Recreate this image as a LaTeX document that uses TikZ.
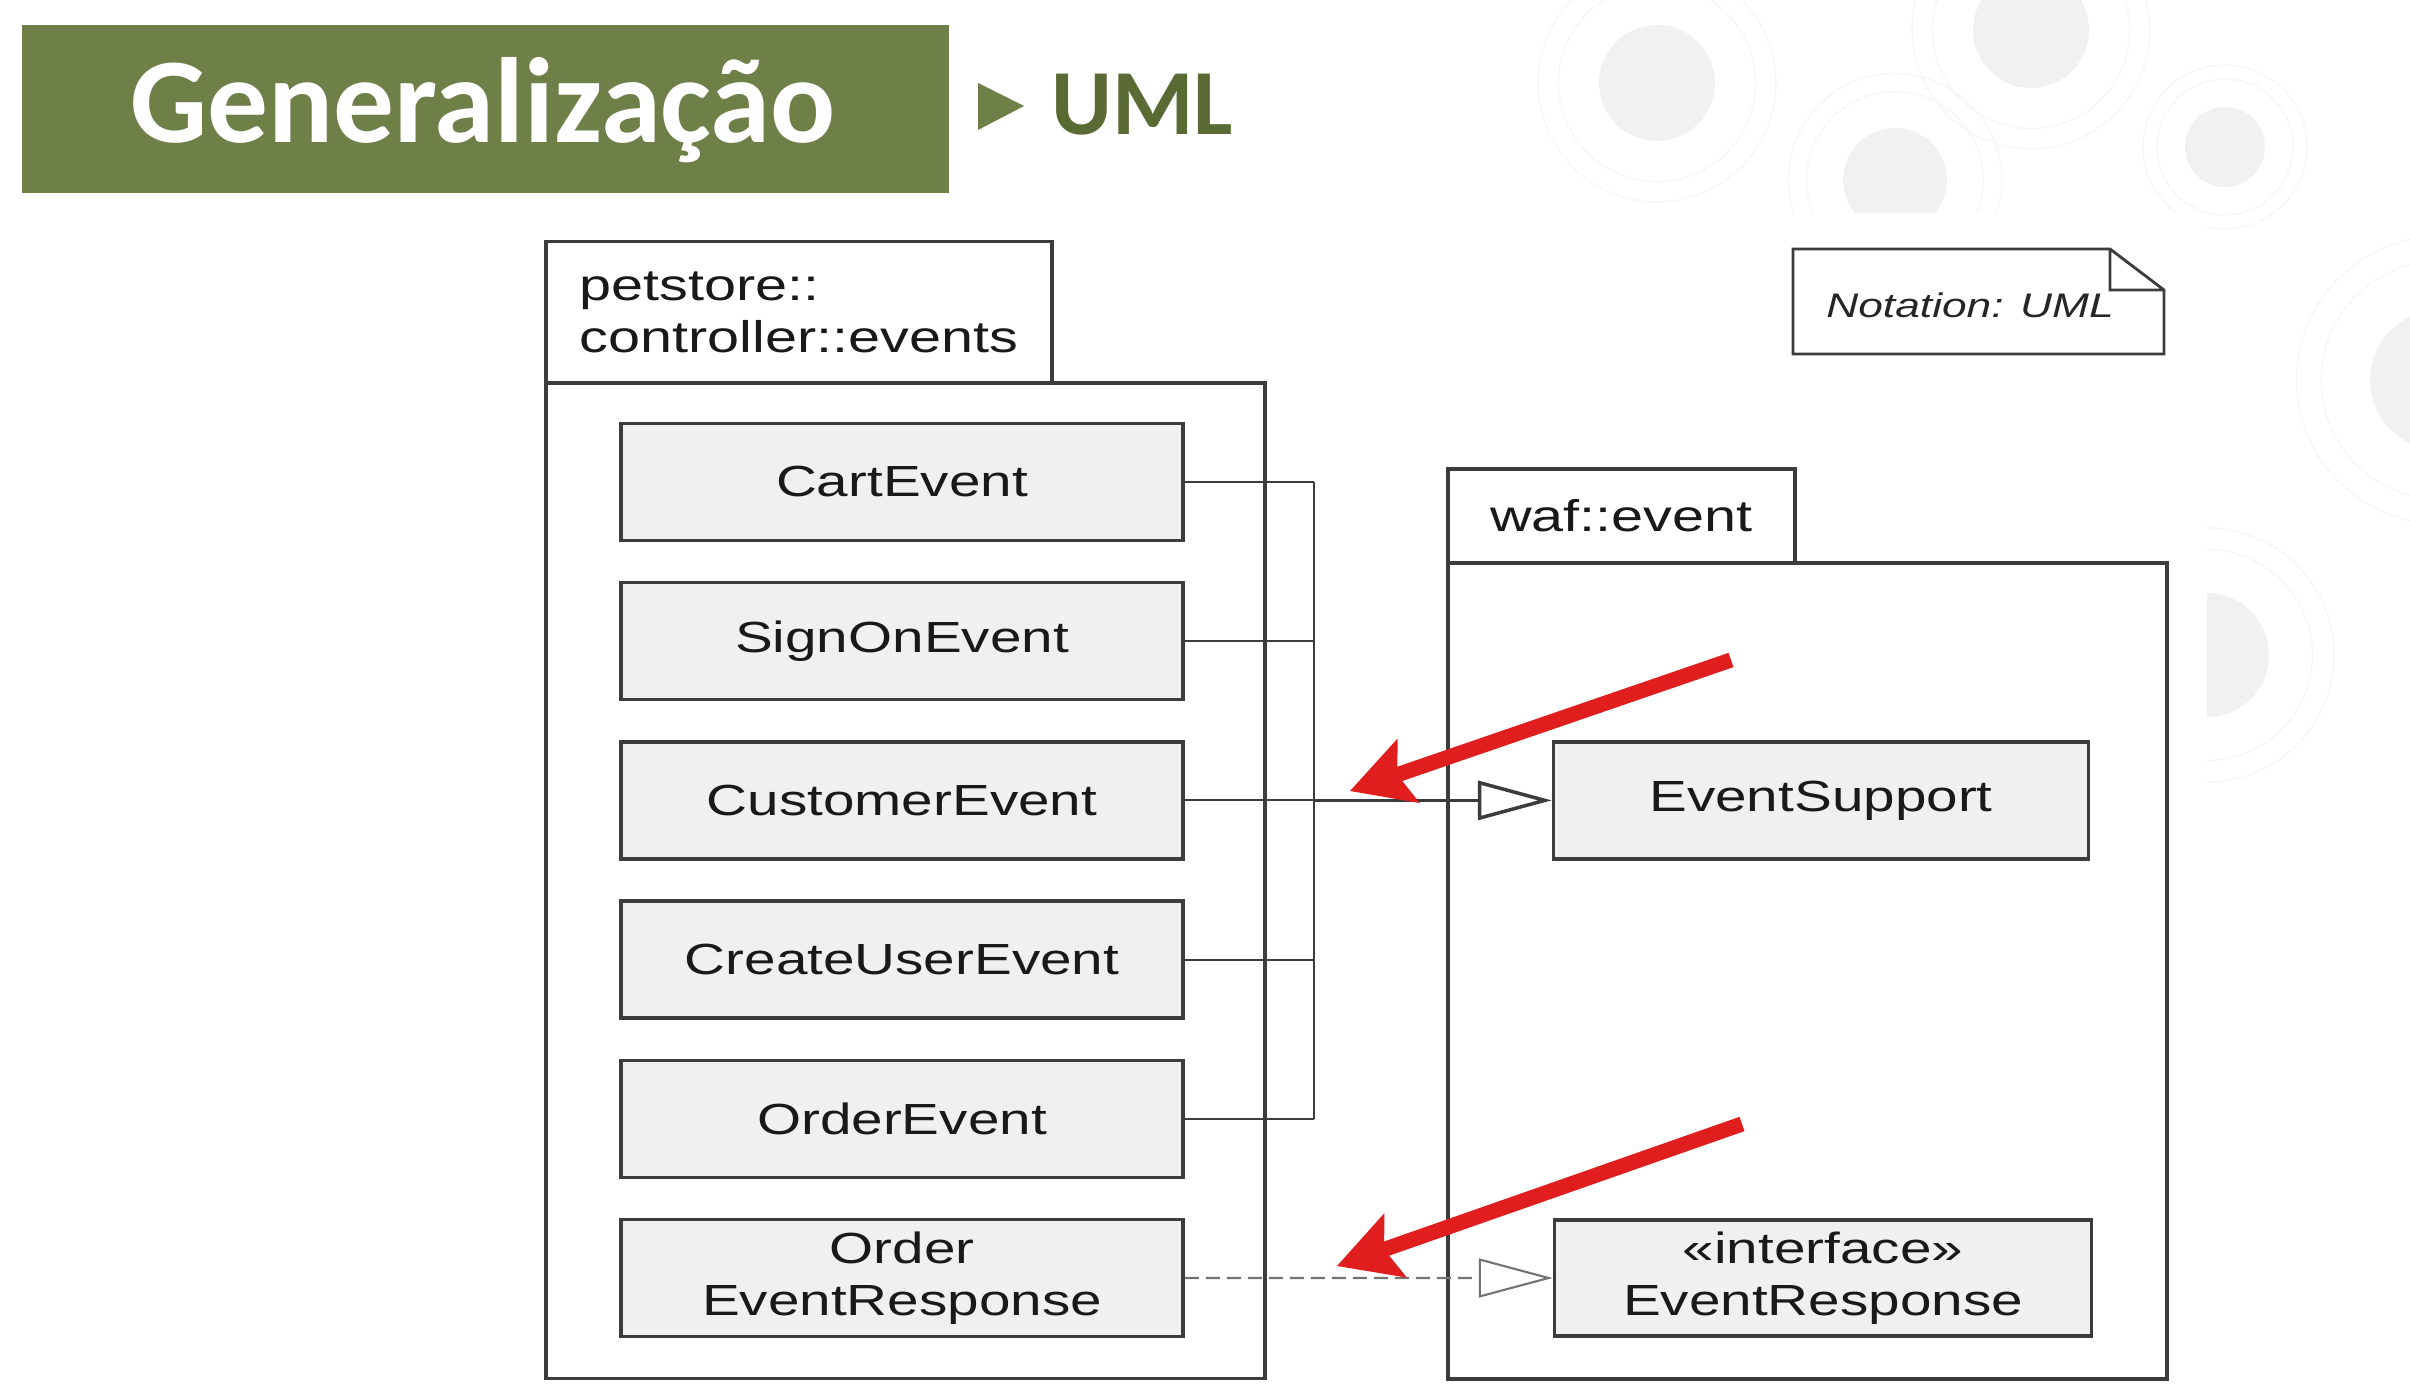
\documentclass[tikz,border=0pt]{standalone}
\usepackage{fontspec}
\setmainfont{Liberation Sans}
\newfontfamily\umlfont[FakeStretch=1.3]{Liberation Sans}
\newfontfamily\slidefont{Carlito}
\usetikzlibrary{arrows.meta}
\definecolor{olive01}{HTML}{6E7F47}
\definecolor{olive02}{HTML}{5A6A34}
\definecolor{box01}{HTML}{F0F0F0}
\definecolor{line01}{HTML}{3C3C3C}
\definecolor{hint01}{HTML}{E01E1E}
\definecolor{deco01}{HTML}{F1F1F1}
\definecolor{deco02}{HTML}{F6F6F6}
\tikzset{
  classbox/.style={rectangle, draw=line01, line width=1pt, fill=box01,
    minimum width=5.62cm, minimum height=1.17cm, align=center,
    font=\umlfont\fontsize{12.4}{14.8}\selectfont, text=black!90},
  pkgtab/.style={rectangle, draw=line01, line width=1pt, fill=white, anchor=north west,
    align=left, inner sep=0pt, font=\umlfont\fontsize{12.6}{14.8}\selectfont, text=black!90},
  pkgbody/.style={rectangle, draw=line01, line width=1pt, anchor=north west, inner sep=0pt},
  gen/.style={line01, line width=0.6pt},
  genhead/.style={-{Triangle[open, length=0.74cm, width=0.39cm, fill=white]}},
  hint/.style={hint01, line width=4.3pt, -{Stealth[length=0.62cm, width=0.68cm, inset=0.12cm, line width=0.5pt]}},
}
\begin{document}
\begin{tikzpicture}[x=0.1mm, y=-0.1mm]
  \useasboundingbox (0,0) rectangle (2410,1400);
  % slide template background
  \foreach \cx/\cy/\r in {1657/83/58, 2031/30/58, 2225/147/40, 1895/180/52, 2207/655/62, 2440/380/70} {
    \fill[deco01] (\cx,\cy) circle (\r*0.1mm);
    \draw[deco02] (\cx,\cy) circle (1.7*\r*0.1mm) (\cx,\cy) circle (2.05*\r*0.1mm);
  }
  \fill[white] (560,213) rectangle (2207,1400);

  % title
  \node[fill=olive01, minimum width=9.27cm, minimum height=1.68cm, anchor=north west, inner sep=0pt] (banner) at (21,24) {};
  \node[anchor=base, text=white, font=\slidefont\bfseries\fontsize{34.5}{40}\selectfont] (title) at (483,143) {Generalização};
  \fill[olive01] (978,83) -- (1024,106) -- (978,130) -- cycle;
  \node[anchor=base west, inner sep=0pt, text=olive02, font=\slidefont\bfseries\fontsize{26.5}{32}\selectfont] (subtitle) at (1051,135) {UML};

  % packages
  \node[pkgbody, minimum width=7.19cm, minimum height=9.96cm] (petBody) at (544,381) {};
  \node[pkgtab, minimum width=5.06cm, minimum height=1.41cm] (petTab) at (544,240) {petstore::\\controller::events};
  \node[pkgbody, minimum width=7.19cm, minimum height=8.16cm] (wafBody) at (1446,561) {};
  \node[pkgtab, minimum width=3.47cm, minimum height=0.94cm] (wafTab) at (1446,467) {waf::event};

  % note
  \node[text=black!85, font=\umlfont\itshape\fontsize{9.7}{12}\selectfont] (note) at (1970,305) {Notation: UML};
  \draw[line01, line width=0.8pt] (1793,249) -- (2110,249) -- (2164,290) -- (2164,354) -- (1793,354) -- cycle
    (2110,249) -- (2110,290) -- (2164,290);

  % classes
  \foreach \cname/\ctext [count=\i from 0] in {cart/CartEvent, signon/SignOnEvent, customer/CustomerEvent,
      createuser/CreateUserEvent, order/OrderEvent, orderresp/{Order\\EventResponse}}
    \node[classbox] (\cname) at (902,{482+159.2*\i}) {\ctext};
  \node[classbox, minimum width=5.35cm] (support) at (1821,800.4) {EventSupport};
  \node[classbox, minimum width=5.37cm, minimum height=1.14cm] (response) at (1823,1278) {«interface»\\EventResponse};

  % generalization and realization
  \coordinate (bus) at (1314,482);
  \foreach \cname in {cart, signon, customer, createuser, order}
    \draw[gen] (\cname.east) -- (\cname.east -| bus);
  \draw[gen] (cart.east -| bus) -- (order.east -| bus);
  \draw[gen, line width=1pt, genhead] (customer.east -| bus) -- (support.west);
  \draw[gen, draw=black!55, dash pattern=on 1.4mm off 0.7mm, genhead] (orderresp.east) -- (response.west);

  % red hints
  \coordinate (hintA) at (1731,660);
  \coordinate (hintAtip) at (1350,791);
  \coordinate (hintB) at (1742,1124);
  \coordinate (hintBtip) at (1337,1266);
  \draw[hint] (hintA) -- (hintAtip);
  \draw[hint] (hintB) -- (hintBtip);
\end{tikzpicture}
\end{document}
